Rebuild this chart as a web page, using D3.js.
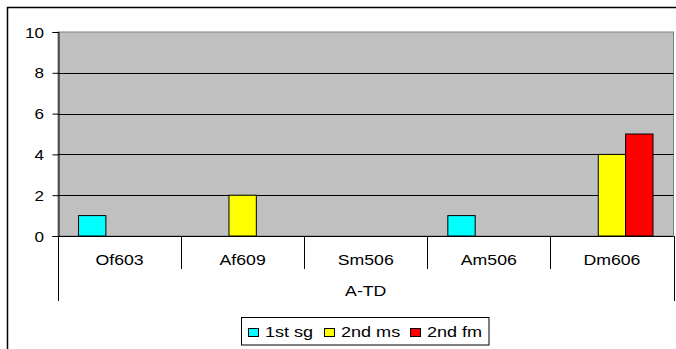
<!DOCTYPE html>
<html>
<head>
<meta charset="utf-8">
<script src="https://cdn.jsdelivr.net/npm/d3@7"></script>
<style>
  html, body { margin: 0; padding: 0; background: #fff; }
  svg { display: block; font-family: "Liberation Sans", Arial, sans-serif; }
</style>
</head>
<body>
<svg id="chart" width="676" height="349"></svg>
<script>
// Chart data
const categories = ["Of603", "Af609", "Sm506", "Am506", "Dm606"];
const groupLabel = "A-TD";
const seriesNames = ["1st sg", "2nd ms", "2nd fm"];
const seriesColors = ["#00FFFF", "#FFFF00", "#FF0000"];
const firstSg = [1, 0, 0, 1, 0];
const secondMs = [0, 2, 0, 0, 4];
const secondFm = [0, 0, 0, 0, 5];
const yTicks = [0, 2, 4, 6, 8, 10];

const seriesValues = [firstSg, secondMs, secondFm];

const svg = d3.select("#chart");
const FONT = "'Liberation Sans', Arial, sans-serif";

// Wide text: horizontally stretched glyphs anchored at (tx, ty)
function wideText(sel, sx) {
  sel.attr("transform", function () {
    const tx = +this.getAttribute("x") || 0;
    const ty = +this.getAttribute("y") || 0;
    return `translate(${tx},${ty}) scale(${sx},1) translate(${-tx},${-ty})`;
  });
}

// Outer chart frame
svg.append("rect")
  .attr("x", 7.5).attr("y", 7.5)
  .attr("width", 676).attr("height", 349)
  .attr("fill", "none").attr("stroke", "#000").attr("stroke-width", 1.5);

const plot = { left: 58, top: 32, right: 673.5, bottom: 236 };

const x = d3.scaleBand()
  .domain(categories)
  .range([plot.left, plot.right])
  .paddingInner(0).paddingOuter(0);

const inner = d3.scaleBand()
  .domain(d3.range(seriesNames.length))
  .range([0, x.bandwidth()])
  .paddingInner(0)
  .paddingOuter(0.75);

const y = d3.scaleLinear().domain([0, 10]).range([plot.bottom, plot.top]);

// Plot area background
svg.append("rect")
  .attr("x", plot.left).attr("y", plot.top)
  .attr("width", plot.right - plot.left).attr("height", plot.bottom - plot.top)
  .attr("fill", "#C0C0C0").attr("stroke", "#808080").attr("stroke-width", 1);

// Horizontal gridlines
svg.append("g")
  .selectAll("line")
  .data(yTicks.filter(d => d > 0 && d < 10))
  .join("line")
  .attr("x1", plot.left).attr("x2", plot.right)
  .attr("y1", d => Math.round(y(d)) + 0.5).attr("y2", d => Math.round(y(d)) + 0.5)
  .attr("stroke", "#000").attr("stroke-width", 1);

// Bars
const groups = svg.append("g")
  .selectAll("g")
  .data(categories)
  .join("g")
  .attr("transform", d => `translate(${x(d)},0)`);

groups.selectAll("rect")
  .data((d, i) => seriesValues.map((s, k) => ({ k, v: s[i] })).filter(e => e.v > 0))
  .join("rect")
  .attr("x", e => inner(e.k))
  .attr("y", e => y(e.v))
  .attr("width", inner.bandwidth())
  .attr("height", e => y(0) - y(e.v))
  .attr("fill", e => seriesColors[e.k])
  .attr("stroke", "#000").attr("stroke-width", 1);

// Y axis
const yAxis = svg.append("g")
  .attr("transform", `translate(${plot.left + 0.5},0)`)
  .call(d3.axisLeft(y).tickValues(yTicks).tickSize(6).tickPadding(0).tickFormat(d3.format("d")));
yAxis.attr("font-size", null).attr("font-family", null);
yAxis.select(".domain").attr("stroke", "#000");
yAxis.selectAll("line").attr("stroke", "#000");
yAxis.selectAll("text")
  .attr("x", -14.5)
  .attr("dy", "0.36em")
  .attr("font-size", 14).attr("fill", "#000")
  .attr("font-family", FONT)
  .call(wideText, 1.22);

// X axis baseline
svg.append("line")
  .attr("x1", plot.left).attr("x2", plot.right)
  .attr("y1", plot.bottom + 0.5).attr("y2", plot.bottom + 0.5)
  .attr("stroke", "#000").attr("stroke-width", 1.2);

// Category dividers
const boundaries = categories.slice(1).map(c => x(c));
svg.append("g").selectAll("line")
  .data(boundaries)
  .join("line")
  .attr("x1", d => Math.round(d) + 0.5).attr("x2", d => Math.round(d) + 0.5)
  .attr("y1", plot.bottom).attr("y2", 269)
  .attr("stroke", "#000");

// Group outer dividers
svg.append("g").selectAll("line")
  .data([plot.left, plot.right])
  .join("line")
  .attr("x1", d => Math.round(d) + 0.5).attr("x2", d => Math.round(d) + 0.5)
  .attr("y1", plot.bottom).attr("y2", 301)
  .attr("stroke", "#000");

// Category labels
svg.append("g").selectAll("text")
  .data(categories)
  .join("text")
  .attr("x", d => x(d) + x.bandwidth() / 2)
  .attr("y", 265)
  .attr("text-anchor", "middle")
  .attr("font-size", 15)
  .text(d => d)
  .call(wideText, 1.18);

// Group label
svg.append("text")
  .attr("x", (plot.left + plot.right) / 2)
  .attr("y", 296)
  .attr("text-anchor", "middle")
  .attr("font-size", 15)
  .text(groupLabel)
  .call(wideText, 1.18);

// Legend
const legend = svg.append("g");
legend.append("rect")
  .attr("x", 241.5).attr("y", 317.5)
  .attr("width", 247.5).attr("height", 27.5)
  .attr("fill", "#fff").attr("stroke", "#000").attr("stroke-width", 1);

const legendX = [248, 324, 410];
const items = legend.selectAll("g.item")
  .data(seriesNames)
  .join("g")
  .attr("class", "item")
  .attr("transform", (d, i) => `translate(${legendX[i]},0)`);
items.append("rect")
  .attr("x", 0.5).attr("y", 328.5)
  .attr("width", 10).attr("height", 8)
  .attr("fill", (d, i) => seriesColors[i])
  .attr("stroke", "#000");
items.append("text")
  .attr("x", 17).attr("y", 337)
  .attr("font-size", 14)
  .text(d => d)
  .call(wideText, 1.29);
</script>
</body>
</html>
